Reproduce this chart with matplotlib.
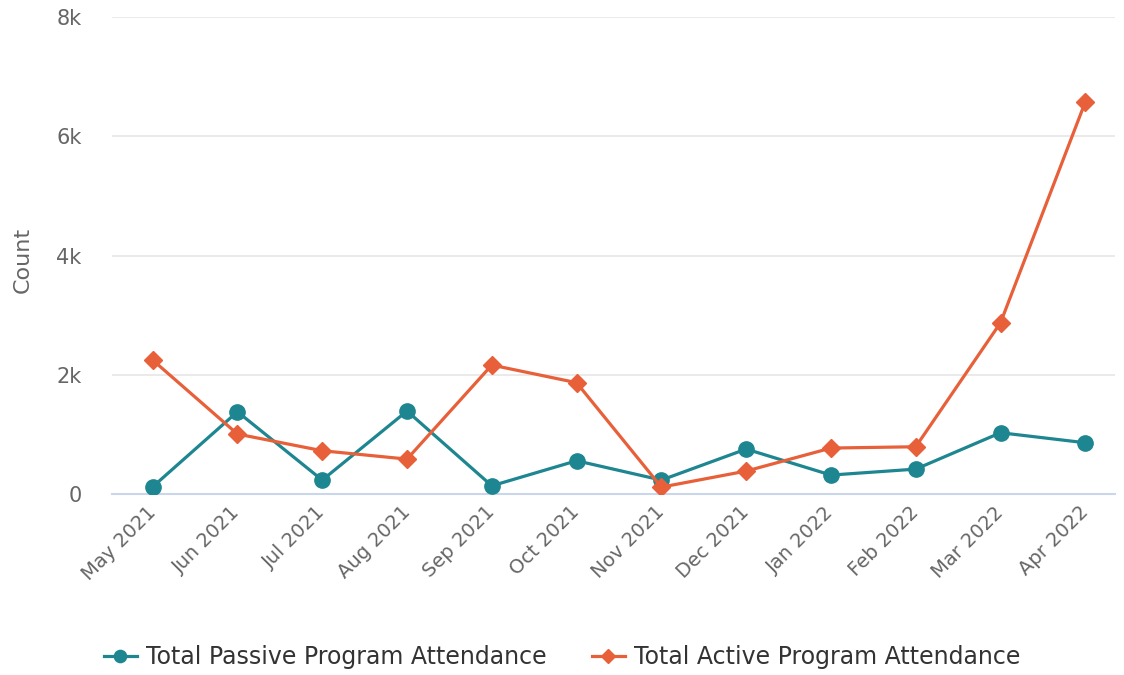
import matplotlib.pyplot as plt
from matplotlib.ticker import FuncFormatter

# Data
months = ['May 2021', 'Jun 2021', 'Jul 2021', 'Aug 2021', 'Sep 2021', 'Oct 2021',
          'Nov 2021', 'Dec 2021', 'Jan 2022', 'Feb 2022', 'Mar 2022', 'Apr 2022']
passive = [122, 1381, 235, 1393, 139, 559, 235, 755, 319, 419, 1029, 861]
active = [2248, 1007, 727, 587, 2164, 1868, 117, 386, 772, 794, 2874, 6577]

teal = '#1d8690'
orange = '#e8603a'

plt.rcParams['font.family'] = ['DejaVu Sans']
fig = plt.figure(figsize=(11.24, 6.75), dpi=100)
ax = fig.add_axes([0.0996, 0.268, 0.8924, 0.7068])

x = list(range(len(months)))
ax.plot(x, passive, color=teal, lw=2.3, marker='o', ms=11,
        label='Total Passive Program Attendance', zorder=3)
ax.plot(x, active, color=orange, lw=2.3, marker='D', ms=9,
        label='Total Active Program Attendance', zorder=3)

ax.set_ylim(0, 8000)
ax.set_yticks([0, 2000, 4000, 6000, 8000])
ax.yaxis.set_major_formatter(FuncFormatter(lambda v, p: '0' if v == 0 else f'{int(v/1000)}k'))
ax.set_xlim(-0.48, 11.35)
ax.set_xticks(x)
ax.set_xticklabels(months, rotation=45, ha='right', va='center', rotation_mode='anchor')

ax.grid(axis='y', color='#e6e6e6', lw=1.2)
ax.set_axisbelow(True)
for s in ['top', 'right', 'left']:
    ax.spines[s].set_visible(False)
ax.spines['bottom'].set_color('#ccd6eb')
ax.spines['bottom'].set_linewidth(1.5)
ax.tick_params(axis='y', length=0, labelsize=15, colors='#666666', pad=22)
ax.tick_params(axis='x', length=0, labelsize=14, colors='#666666', pad=11)
ax.set_ylabel('Count', fontsize=16, color='#666666')
ax.yaxis.set_label_coords(-0.079, 0.49)

leg = ax.legend(loc='center', bbox_to_anchor=(0.5, 1 - 657 / 675),
                bbox_transform=fig.transFigure, ncol=2, frameon=False,
                fontsize=17, handlelength=1.4, handletextpad=0.4,
                columnspacing=1.9, markerscale=0.8)
for t in leg.get_texts():
    t.set_color('#333333')

plt.savefig('out.png', dpi=100)
